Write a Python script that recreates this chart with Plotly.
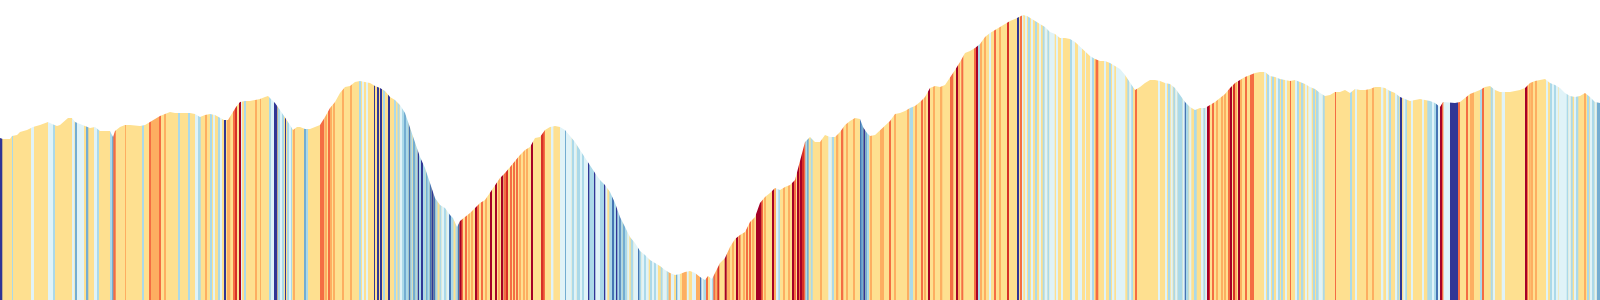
import plotly.graph_objects as go

# ---- Elevation profile (distance units, elevation in m) ----
dist = [
    0, 3, 10, 12, 17, 20, 27, 33, 40, 45, 48, 52, 57, 60, 65, 68, 72, 75, 80, 85, 90, 95,
    100, 110, 113, 115, 120, 125, 130, 140, 145, 150, 155, 160, 165, 170, 175, 180, 190, 195,
    200, 205, 210, 215, 220, 224, 228, 232, 236, 240, 245, 250, 255, 260, 265, 268, 271, 275, 280, 285, 290, 293, 297,
    300, 305, 310, 315, 320, 325, 330, 335, 340, 345, 350, 355, 360, 365, 370, 375, 380, 385, 390, 395,
    400, 405, 410, 415, 420, 425, 430, 435, 440, 445, 450, 453, 457, 460, 465, 470, 475, 480, 485, 490, 495,
    500, 505, 510, 515, 520, 525, 530, 535, 540, 545, 550, 555, 560, 565, 570, 575, 580, 585, 590, 595,
    600, 605, 610, 615, 620, 625, 630, 635, 640, 645, 650, 655, 660, 665, 670, 675, 680, 685, 690, 695,
    700, 705, 708, 712, 715, 720, 725, 730, 735, 740, 745, 750, 755, 760, 765, 770, 775, 780, 785, 790, 795,
    800, 805, 810, 815, 820, 825, 830, 835, 840, 845, 850, 855, 860, 863, 867, 870, 875, 880, 885, 890, 895,
    900, 905, 910, 915, 920, 925, 930, 935, 940, 945, 950, 955, 960, 965, 970, 975, 980, 985, 990, 995,
    1000, 1005, 1010, 1015, 1020, 1023, 1027, 1030, 1035, 1040, 1045, 1050, 1055, 1060, 1065, 1070, 1075, 1080, 1085, 1090, 1095,
    1100, 1105, 1110, 1115, 1120, 1125, 1130, 1135, 1140, 1145, 1150, 1155, 1160, 1165, 1170, 1175, 1180, 1185, 1190, 1195,
    1200, 1205, 1210, 1215, 1220, 1225, 1230, 1235, 1240, 1245, 1250, 1255, 1260, 1265, 1270, 1275, 1280, 1285, 1290, 1295,
    1300, 1305, 1310, 1315, 1320, 1325, 1330, 1335, 1340, 1345, 1350, 1355, 1360, 1365, 1370, 1375, 1380, 1385, 1390, 1395,
    1400, 1405, 1410, 1415, 1420, 1425, 1430, 1435, 1440, 1443, 1450, 1455, 1460, 1465, 1470, 1475, 1480, 1485, 1490, 1495,
    1500, 1505, 1510, 1515, 1520, 1525, 1530, 1535, 1540, 1545, 1550, 1555, 1560, 1565, 1570, 1575, 1580, 1585, 1590, 1595, 1600,
]
elev = [
    262, 261, 261, 264, 265, 268, 270, 273, 275, 277, 278, 276, 274, 275, 280, 282, 282, 278, 276, 274, 272, 273,
    269, 269, 263, 269, 273, 275, 275, 274, 275, 278, 281, 284, 286, 288, 287, 287, 287, 286,
    283, 285, 286, 285, 282, 280, 280, 287, 293, 298, 299, 299, 300, 301, 303, 304, 301, 297, 290, 283, 275, 270, 273,
    273, 271, 271, 273, 275, 283, 292, 298, 307, 313, 314, 318, 319, 318, 317, 314, 312, 309, 303, 300,
    295, 287, 273, 258, 243, 232, 217, 202, 195, 192, 185, 182, 173, 179, 183, 187, 192, 197, 200, 207, 215,
    222, 227, 233, 240, 245, 250, 253, 262, 263, 270, 273, 274, 273, 270, 264, 258, 250, 242, 235, 227,
    220, 215, 208, 197, 183, 173, 163, 157, 149, 145, 140, 137, 134, 130, 127, 125, 126, 128, 129, 127,
    123, 120, 124, 121, 127, 137, 142, 153, 161, 165, 168, 178, 183, 197, 203, 207, 212, 210, 213, 215, 220,
    238, 258, 263, 258, 258, 265, 263, 263, 268, 275, 279, 282, 281, 273, 267, 264, 265, 270, 275, 279, 286,
    287, 289, 292, 294, 298, 303, 312, 314, 313, 315, 322, 330, 338, 347, 349, 352, 356, 363, 367, 370,
    373, 376, 379, 381, 383, 385, 384, 382, 379, 376, 373, 368, 366, 362, 362, 361, 358, 353, 349, 344, 341,
    339, 339, 337, 334, 331, 325, 317, 310, 313, 317, 320, 320, 319, 317, 316, 312, 305, 298, 293, 290,
    292, 292, 295, 298, 302, 306, 312, 317, 320, 323, 325, 327, 328, 328, 324, 323, 321, 320, 319, 320,
    318, 316, 313, 311, 307, 304, 305, 308, 308, 310, 307, 311, 310, 310, 311, 313, 313, 312, 309, 307,
    303, 301, 299, 300, 301, 300, 299, 297, 293, 298, 297, 297, 298, 302, 306, 308, 310, 313, 314, 310,
    308, 308, 308, 309, 310, 312, 317, 319, 320, 321, 317, 315, 312, 307, 304, 303, 304, 307, 303, 298, 297,
]

# ---- Gradient-class stripes: (start distance, length) ----
steep_down = [(0.7, 1.6), (224, 1.8), (274, 3.3), (285, 1), (374, 1), (377, 1.2), (380.5, 1.3), (388, 1.3),
              (417.5, 2), (421, 2), (431.5, 2), (588, 1.3), (594, 1.3), (604, 1.3), (616, 1.3), (863.3, 2),
              (1017.3, 1.4), (1400.7, 1.3), (1450, 8.3)]
strong_down = [(408.5, 2), (429.5, 2), (433.5, 2), (449, 2), (457.5, 2), (612, 2), (619.3, 1.4), (638, 1.3),
               (700, 1.3), (860, 1.3), (1184.7, 1.3), (1436, 1.3)]
mid_down = [(75, 1.3), (86, 2.3), (112, 1.3), (304.5, 1.5), (404.5, 1.3), (413, 2.5), (426, 1.3), (565, 1),
            (622.7, 2.3), (676, 1.3), (806.7, 2), (861.3, 2), (865.3, 2), (1596.7, 3.3)]
light_down = [(12, 1), (53.5, 1.5), (97, 1.5), (110, 2), (142, 1.3), (178, 1.5), (188, 1.6), (198, 2.7),
              (210, 1.5), (218, 1.5), (244.5, 1), (269, 2), (278, 2), (282, 1.5), (287, 1.5), (290.5, 1.5),
              (306, 1.5), (359.5, 1.3), (383.5, 1.5), (394, 1.5), (397.5, 2), (402, 2), (406, 2.5), (410.5, 2),
              (415.5, 2), (419.5, 1.5), (423, 2.7), (427.5, 2), (435.5, 2), (439.5, 2), (444, 2.5), (451, 2.5),
              (455.5, 2), (571.7, 2.3), (576.7, 3.3), (582, 2), (589.3, 4.7), (600, 4), (609.3, 2.7), (614, 2),
              (617.3, 2), (620.7, 2), (625, 2.3), (630.7, 2.6), (639.3, 2), (644, 2), (650, 2), (654, 2),
              (660.7, 2), (666.7, 2), (703.3, 3.4), (712, 1.3), (778.3, 1.7), (805.3, 1.4), (810.7, 2),
              (832, 1.3), (867.3, 1.4), (909.5, 3.5), (978.7, 1.3), (1028.3, 1.7), (1035, 1.7), (1042.7, 2),
              (1047.3, 2), (1070, 2), (1092, 2), (1109.3, 1.4), (1127.3, 2), (1131.3, 1.4), (1168.3, 1.7),
              (1173.3, 2), (1177.3, 5.4), (1186, 2.7), (1194, 2.7), (1203.3, 2), (1267.3, 1.4), (1272.7, 1.3),
              (1278.7, 1.3), (1281.3, 1.4), (1297.3, 1.4), (1301.7, 1.6), (1313.3, 1.7), (1316, 2.7),
              (1322.7, 2), (1350, 2), (1389.3, 1.4), (1397.3, 2), (1405.7, 1.3), (1427.3, 4.7), (1433.3, 2.7),
              (1480, 1.7), (1490.7, 2), (1550, 2), (1554, 1.3), (1566.7, 1.6), (1570.7, 2), (1576.7, 1.6),
              (1587.7, 1.6), (1592, 2.7)]
slight_down = [(31, 3), (48, 5), (72, 2.5), (77, 7), (94, 3), (195, 3), (213, 1.5), (220, 2), (241, 1),
               (271, 3), (280, 2), (289, 1.5), (362, 1.5), (366, 1.3), (400, 2), (441.5, 2.5), (446.5, 2.5),
               (551.7, 1.7), (560, 5), (566, 5.7), (574, 2.7), (580, 2), (584, 4), (595.3, 4.7), (605.3, 2),
               (627.3, 2), (633.3, 4.7), (641.3, 2.7), (646, 2.7), (652, 2), (656, 1.3), (662.7, 4),
               (670.7, 3.3), (677.3, 2.7), (686.7, 2), (692, 4), (701.3, 2), (710, 2), (776.7, 1.6),
               (828.3, 3.4), (989.3, 1.4), (1021.7, 1.6), (1025, 1.7), (1031.7, 1), (1039.3, 1.4),
               (1044.7, 2.6), (1049.3, 5.4), (1056, 1.3), (1061.3, 1.4), (1072, 3), (1078, 1.3), (1080, 2),
               (1085, 1), (1090, 2), (1104, 1.3), (1112.7, 1.6), (1116, 9.3), (1129.3, 2), (1158.3, 1.7),
               (1165, 1.7), (1170.7, 2), (1175.3, 2), (1182.7, 2), (1189.3, 2), (1201.7, 1.6), (1205.3, 2),
               (1264, 2), (1269.3, 1.4), (1276, 1.3), (1285, 1.7), (1295, 1.7), (1305, 1.7), (1308.3, 3.4),
               (1318.7, 4), (1355, 1.7), (1381.7, 1.6), (1386.7, 1.6), (1395, 1.7), (1403.3, 2), (1411.3, 1.4),
               (1422.7, 1.3), (1432, 1.3), (1438, 1.3), (1443.3, 6.7), (1493.3, 1.4), (1501.7, 3.3),
               (1546.7, 1.3), (1552.7, 1.3), (1556.7, 1.6), (1558.7, 8), (1568.3, 2.4), (1574, 1.3),
               (1590, 1.7), (1594.7, 2)]
slight_up = [(125, 1), (151, 1.2), (153, 1.2), (155, 1.2), (157, 1.2), (164.5, 1.2), (205, 1.2), (227, 3.3),
             (255.5, 1), (260, 1), (293.5, 1.5), (325.5, 1.2), (330, 1.2), (333.5, 1.5), (342, 1.3), (350, 1.3),
             (468, 1.2), (471, 1.3), (485.3, 1.3), (498.5, 1.5), (519.3, 1.3), (523.3, 1.3), (526.7, 1.3),
             (668.7, 2), (682, 4.7), (696, 4), (715.3, 2), (727, 3), (732, 2), (743.5, 1.3), (752.7, 1.6),
             (764.7, 1.3), (773.3, 2.7), (783.3, 1.4), (788.7, 1.3), (820, 1.3), (836.7, 1.6), (846, 1.3),
             (853.3, 1.4), (870, 1.3), (880, 1.3), (882.7, 1.3), (894, 1.3), (907, 1.3), (915, 1.3),
             (924.7, 1.3), (933.3, 1.4), (940.7, 1.6), (958.7, 1.3), (980, 1.3), (984.7, 1.3), (999.3, 1.4),
             (1095, 1.6), (1216.7, 1.3), (1221.7, 1), (1224, 1.3), (1235.3, 1.4), (1240.7, 1.3), (1366, 1.3),
             (1372, 2), (1470, 1.3), (1472.7, 1.3), (1528.7, 2), (1531.3, 1.4), (1535, 1.7), (1584.3, 1.4)]
mid_up = [(113.3, 2.4), (149, 1.3), (159, 1.2), (233.3, 1.3), (320, 4.3), (328, 1.2), (461.5, 1.5), (465, 1.3),
          (477.3, 1.3), (481.5, 1.5), (504, 1.3), (510.7, 1.3), (513.3, 1.3), (516, 1.3), (543.3, 1.7),
          (706.7, 1.3), (713.3, 2), (738.5, 2), (746.3, 1.3), (749.3, 1.7), (761.3, 1.4), (794, 2),
          (799.3, 1.4), (803.3, 2), (841.7, 1.6), (889.3, 1.4), (921, 1.3), (950, 1.7), (951.7, 1.6),
          (961.3, 2), (974, 1.3), (994, 1.3), (1020, 1.3), (1096.7, 1.6), (1135.3, 1.4), (1212.7, 1.3),
          (1228.7, 1.3), (1245, 1.7), (1250, 1.3), (1252.3, 1.3), (1290, 1), (1335, 1), (1441.3, 2),
          (1458.3, 1.7), (1466, 1.3), (1482, 1.3), (1526.7, 1.3)]
strong_up = [(235.5, 1.3), (506.7, 1.3), (541.7, 1.7), (717.3, 2), (802, 1.3), (1007.3, 1.4), (1209, 1),
             (1233.3, 1.4)]
steep_up = [(239, 1.3), (459.5, 2), (475, 1.5), (490.7, 1.3), (495, 1.3), (501.7, 1.6), (531.7, 1.3),
            (724.7, 2), (736, 1.3), (756, 5.3), (772, 1.3), (792.7, 1.3), (797.3, 1.4), (800.7, 1.3), (928, 2),
            (956, 1.3), (976.7, 1.3), (1207.3, 1.7), (1230, 1.3), (1238.3, 1.7), (1440, 1.3), (1525, 1.7)]

FLAT_COLOR = "#fee090"
groups = [
    (steep_down, "#313695"),
    (strong_down, "#4575b4"),
    (mid_down, "#74add1"),
    (light_down, "#abd9e9"),
    (slight_down, "#e0f3f8"),
    (slight_up, "#fdae61"),
    (mid_up, "#f46d43"),
    (strong_up, "#d73027"),
    (steep_up, "#a50026"),
]

X_MIN, X_MAX = 0, 1600
Y_MIN, Y_MAX = 100, 400

fig = go.Figure()
for items, color in groups:
    fig.add_trace(go.Bar(
        x=[s + w / 2 for s, w in items],
        width=[w for s, w in items],
        y=[Y_MAX - Y_MIN] * len(items),
        base=Y_MIN,
        marker=dict(color=color, line=dict(width=0)),
        hoverinfo="skip",
        showlegend=False,
    ))

# sky above the elevation profile
fig.add_trace(go.Scatter(
    x=dist + [X_MAX, X_MIN],
    y=elev + [Y_MAX, Y_MAX],
    fill="toself",
    fillcolor="white",
    mode="lines",
    line=dict(width=0, color="white"),
    hoverinfo="skip",
    showlegend=False,
))

fig.update_layout(
    width=1600, height=300,
    margin=dict(l=0, r=0, t=0, b=0),
    paper_bgcolor="white",
    plot_bgcolor=FLAT_COLOR,
    barmode="overlay",
    xaxis=dict(range=[X_MIN, X_MAX], visible=False, fixedrange=True),
    yaxis=dict(range=[Y_MIN, Y_MAX], visible=False, fixedrange=True),
)

fig.write_html("out.html")
